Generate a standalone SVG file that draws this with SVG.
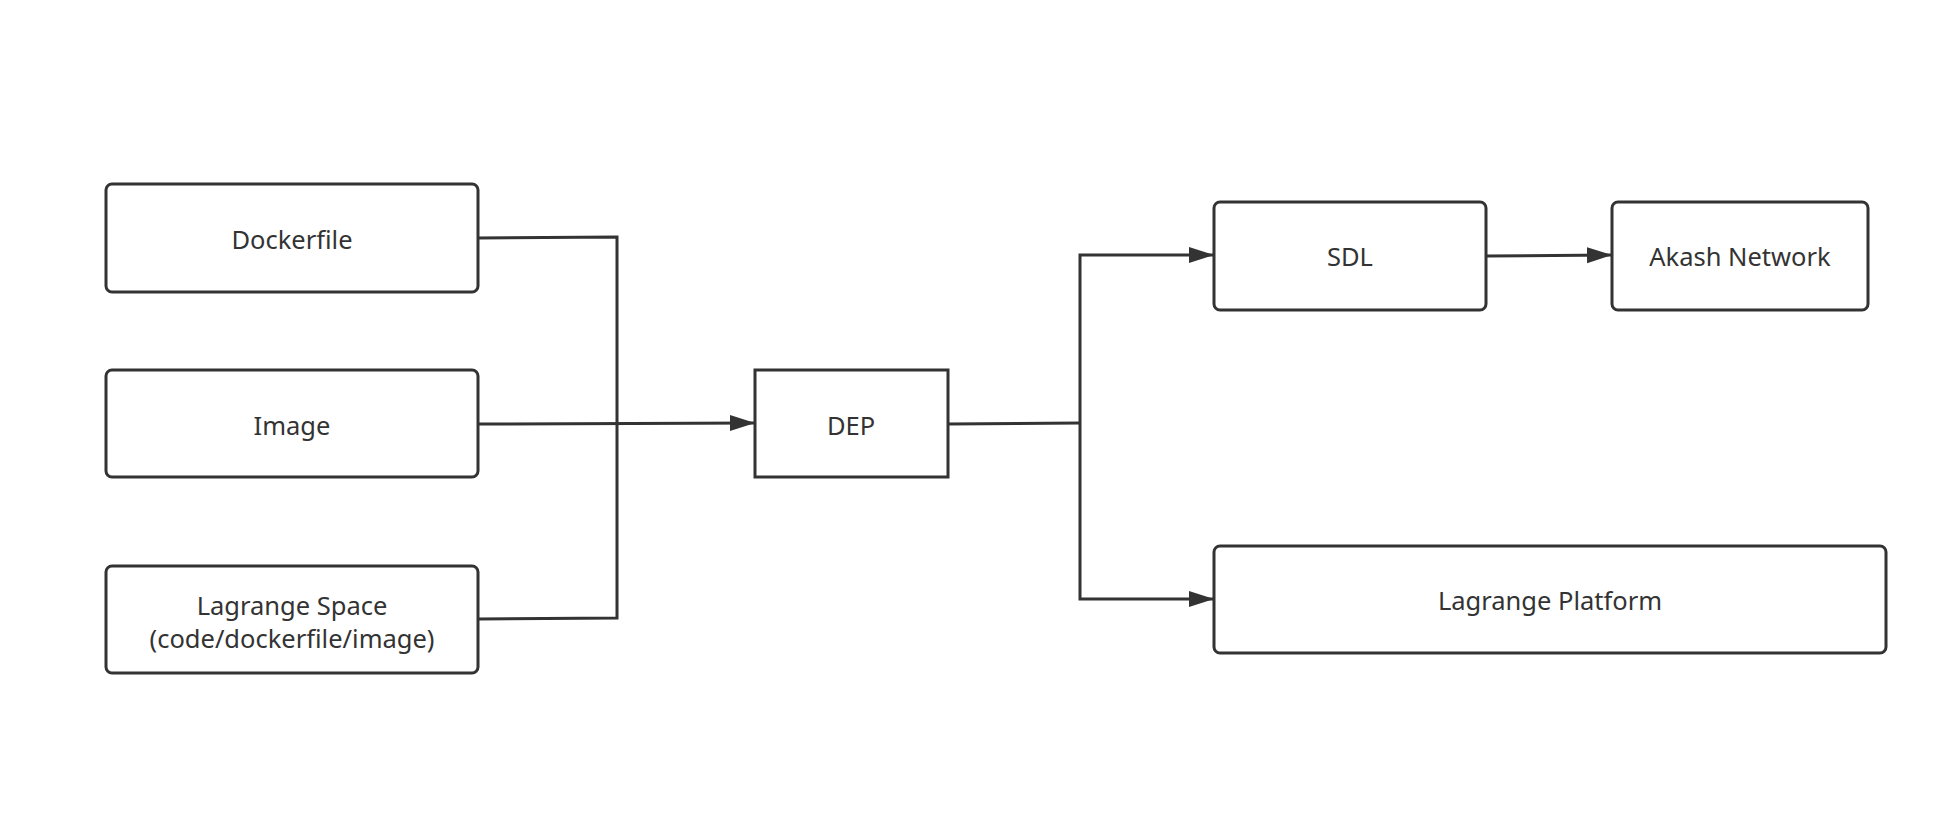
<svg xmlns="http://www.w3.org/2000/svg" width="1958" height="832" viewBox="0 0 1958 832">
<style>
.box{fill:#fff;stroke:#333;stroke-width:3}
.lbl{font-family:"Noto Sans","Liberation Sans",Arial,sans-serif;font-size:25.5px;fill:#333;text-anchor:middle}
.ln{fill:none;stroke:#333;stroke-width:3}
</style>
<defs>
<marker id="ah" markerUnits="userSpaceOnUse" markerWidth="26" markerHeight="18" refX="25" refY="8" orient="auto">
<path d="M0,0 L25,8 L0,16 Z" fill="#333"/>
</marker>
</defs>
<rect width="1958" height="832" fill="#fff"/>
<g id="connectors">
<polyline class="ln" points="478,238 617,237 617,618 478,619"/>
<line class="ln" x1="478" y1="424" x2="755" y2="423" marker-end="url(#ah)"/>
<polyline class="ln" points="948,424 1080,423"/>
<polyline class="ln" points="1080,423 1080,255 1214,255" marker-end="url(#ah)"/>
<polyline class="ln" points="1080,423 1080,599 1214,599" marker-end="url(#ah)"/>
<line class="ln" x1="1486" y1="256" x2="1612" y2="255" marker-end="url(#ah)"/>
</g>
<g id="dockerfile"><rect class="box" x="106" y="184" width="372" height="108" rx="6"/><text class="lbl" x="292" y="249">Dockerfile</text></g>
<g id="image"><rect class="box" x="106" y="370" width="372" height="107" rx="6"/><text class="lbl" x="292" y="435">Image</text></g>
<g id="lagrange-space"><rect class="box" x="106" y="566" width="372" height="107" rx="6"/><text class="lbl" x="292" y="615">Lagrange Space</text><text class="lbl" x="292" y="648">(code/dockerfile/image)</text></g>
<g id="dep"><rect class="box" x="755" y="370" width="193" height="107"/><text class="lbl" x="851" y="435">DEP</text></g>
<g id="sdl"><rect class="box" x="1214" y="202" width="272" height="108" rx="6"/><text class="lbl" x="1350" y="266">SDL</text></g>
<g id="akash"><rect class="box" x="1612" y="202" width="256" height="108" rx="6"/><text class="lbl" x="1740" y="266">Akash Network</text></g>
<g id="lagrange-platform"><rect class="box" x="1214" y="546" width="672" height="107" rx="6"/><text class="lbl" x="1550" y="610">Lagrange Platform</text></g>
</svg>
